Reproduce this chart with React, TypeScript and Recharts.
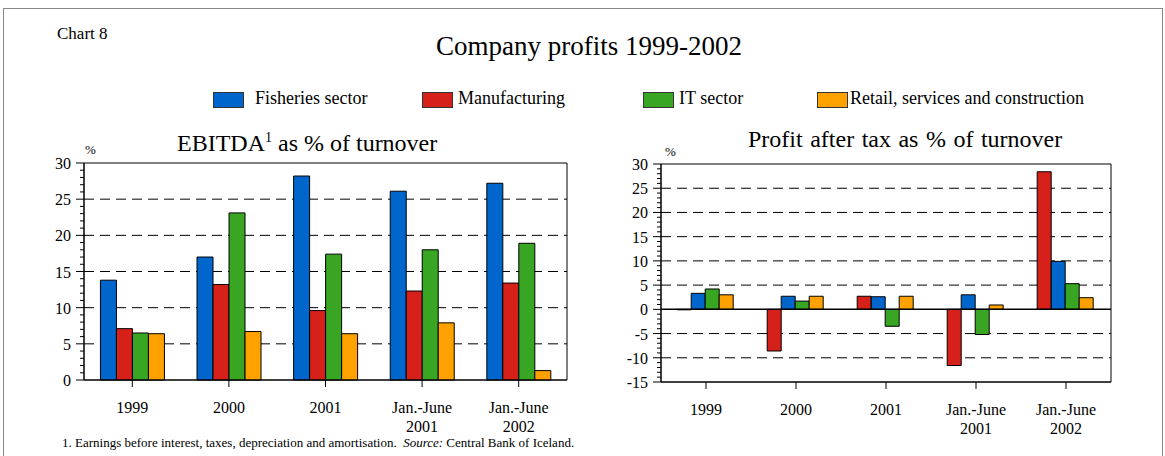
import React from "react";
import {
  BarChart,
  Bar,
  XAxis,
  YAxis,
  CartesianGrid,
  ReferenceLine,
  ReferenceArea,
} from "recharts";

// chart values
const categories = ["1999", "2000", "2001", "Jan.-June\n2001", "Jan.-June\n2002"];

const ebitdaFisheries = [13.8, 17.0, 28.2, 26.1, 27.2];
const ebitdaManufacturing = [7.1, 13.2, 9.6, 12.3, 13.4];
const ebitdaIT = [6.5, 23.1, 17.4, 18.0, 18.9];
const ebitdaRetail = [6.4, 6.7, 6.4, 7.9, 1.3];

const profitManufacturing = [-0.1, -8.6, 2.7, -11.6, 28.4];
const profitFisheries = [3.3, 2.7, 2.6, 3.0, 9.9];
const profitIT = [4.2, 1.7, -3.5, -5.2, 5.3];
const profitRetail = [3.0, 2.7, 2.7, 0.9, 2.4];

const leftGrid = [5, 10, 15, 20, 25];
const rightGrid = [-10, -5, 5, 10, 15, 20, 25];

const BLUE = "#0066cc";
const RED = "#d6201a";
const GREEN = "#38a622";
const ORANGE = "#ffa200";

const FONT = "'Liberation Serif', 'Times New Roman', serif";

const ebitdaData = categories.map((name, i) => ({
  name,
  fisheries: ebitdaFisheries[i],
  manufacturing: ebitdaManufacturing[i],
  it: ebitdaIT[i],
  retail: ebitdaRetail[i],
}));

const profitData = categories.map((name, i) => ({
  name,
  manufacturing: profitManufacturing[i],
  fisheries: profitFisheries[i],
  it: profitIT[i],
  retail: profitRetail[i],
}));

const range = (a: number, b: number) => {
  const out: number[] = [];
  for (let v = a; v <= b; v++) out.push(v);
  return out;
};

// y tick: minor marks every unit, labels every 5
const YTick = (props: any) => {
  const { x, y, payload } = props;
  const v = payload.value;
  const major = v % 5 === 0;
  return (
    <g>
      <line x1={x - (major ? 8 : 4)} x2={x} y1={y} y2={y} stroke="#000" strokeWidth={1} />
      {major && (
        <text x={x - 13} y={y + 6} textAnchor="end" fontSize={16} fontFamily={FONT} fill="#000">
          {v}
        </text>
      )}
    </g>
  );
};

const XTick = (props: any) => {
  const { x, y, payload } = props;
  const lines = String(payload.value).split("\n");
  return (
    <g>
      {lines.map((l, i) => (
        <text key={i} x={x} y={y + 26 + i * 19} textAnchor="middle" fontSize={16} fontFamily={FONT} fill="#000">
          {l}
        </text>
      ))}
    </g>
  );
};

const barStroke = { stroke: "#000", strokeWidth: 1 };

const legendItems = [
  { label: "Fisheries sector", color: BLUE, left: 213, textLeft: 255 },
  { label: "Manufacturing", color: RED, left: 422, textLeft: 458 },
  { label: "IT sector", color: GREEN, left: 643, textLeft: 679 },
  { label: "Retail, services and construction", color: ORANGE, left: 817, textLeft: 850 },
];

export default function App() {
  return (
    <div
      style={{
        position: "absolute",
        left: 0,
        top: 0,
        width: 1165,
        height: 456,
        background: "#fff",
        fontFamily: FONT,
        overflow: "hidden",
      }}
    >
      <div
        style={{
          position: "absolute",
          left: 3,
          top: 8,
          width: 1158,
          height: 460,
          border: "1px solid #888",
        }}
      />
      <div style={{ position: "absolute", left: 57, top: 24, fontSize: 17 }}>Chart 8</div>
      <div style={{ position: "absolute", left: 0, width: 1178, top: 31, textAlign: "center", fontSize: 27 }}>
        Company profits 1999-2002
      </div>

      {legendItems.map((it) => (
        <React.Fragment key={it.label}>
          <div
            style={{
              position: "absolute",
              left: it.left,
              top: 92,
              width: 29,
              height: 14,
              background: it.color,
              border: "1px solid #333",
            }}
          />
          <div style={{ position: "absolute", left: it.textLeft, top: 88, fontSize: 18, whiteSpace: "nowrap" }}>
            {it.label}
          </div>
        </React.Fragment>
      ))}

      <div style={{ position: "absolute", left: 177, top: 130, fontSize: 24, whiteSpace: "nowrap" }}>
        EBITDA<sup style={{ fontSize: 14 }}>1</sup> as % of turnover
      </div>
      <div style={{ position: "absolute", left: 748, top: 126, fontSize: 24, wordSpacing: 1.5, whiteSpace: "nowrap" }}>
        Profit after tax as % of turnover
      </div>
      <div style={{ position: "absolute", left: 85, top: 142, fontSize: 13 }}>%</div>
      <div style={{ position: "absolute", left: 665, top: 144, fontSize: 13 }}>%</div>

      {/* left panel: EBITDA */}
      <div style={{ position: "absolute", left: 0, top: 140 }}>
        <BarChart
          width={600}
          height={300}
          data={ebitdaData}
          margin={{ top: 23, right: 33, left: 44, bottom: 10 }}
          barCategoryGap="17%"
          barGap={0}
        >
          <CartesianGrid vertical={false} horizontalValues={leftGrid} stroke="#000" strokeDasharray="10 6" />
          <XAxis
            dataKey="name"
            tick={<XTick />}
            tickSize={7}
            tickMargin={0}
            interval={0}
            height={50}
            axisLine={{ stroke: "#000" }}
            tickLine={{ stroke: "#000" }}
          />
          <YAxis
            domain={[0, 30]}
            ticks={range(0, 30)}
            interval={0}
            tick={<YTick />}
            tickSize={0}
            tickMargin={0}
            tickLine={false}
            width={40}
            axisLine={{ stroke: "#000" }}
          />
          <ReferenceArea x1={categories[0]} x2={categories[4]} y1={0} y2={30} fill="none" stroke="#000" strokeWidth={1} />
          <Bar dataKey="fisheries" fill={BLUE} {...barStroke} isAnimationActive={false} />
          <Bar dataKey="manufacturing" fill={RED} {...barStroke} isAnimationActive={false} />
          <Bar dataKey="it" fill={GREEN} {...barStroke} isAnimationActive={false} />
          <Bar dataKey="retail" fill={ORANGE} {...barStroke} isAnimationActive={false} />
        </BarChart>
      </div>

      {/* right panel: profit after tax */}
      <div style={{ position: "absolute", left: 600, top: 141 }}>
        <BarChart
          width={565}
          height={300}
          data={profitData}
          margin={{ top: 23, right: 54, left: 21, bottom: 9 }}
          barCategoryGap="18%"
          barGap={0}
        >
          <CartesianGrid vertical={false} horizontalValues={rightGrid} stroke="#000" strokeDasharray="10 6" />
          <XAxis
            dataKey="name"
            tick={<XTick />}
            tickSize={7}
            tickMargin={0}
            interval={0}
            height={50}
            axisLine={{ stroke: "#000" }}
            tickLine={{ stroke: "#000" }}
          />
          <YAxis
            domain={[-15, 30]}
            ticks={range(-15, 30)}
            interval={0}
            tick={<YTick />}
            tickSize={0}
            tickMargin={0}
            tickLine={false}
            width={40}
            axisLine={{ stroke: "#000" }}
          />
          <ReferenceArea x1={categories[0]} x2={categories[4]} y1={-15} y2={30} fill="none" stroke="#000" strokeWidth={1} />
          <ReferenceLine y={0} stroke="#000" strokeWidth={1.5} />
          <Bar dataKey="manufacturing" fill={RED} {...barStroke} isAnimationActive={false} />
          <Bar dataKey="fisheries" fill={BLUE} {...barStroke} isAnimationActive={false} />
          <Bar dataKey="it" fill={GREEN} {...barStroke} isAnimationActive={false} />
          <Bar dataKey="retail" fill={ORANGE} {...barStroke} isAnimationActive={false} />
        </BarChart>
      </div>

      <div style={{ position: "absolute", left: 62, top: 435, fontSize: 13, whiteSpace: "nowrap" }}>
        1. Earnings before interest, taxes, depreciation and amortisation.&nbsp;&nbsp;<i>Source:</i> Central Bank of
        Iceland.
      </div>
    </div>
  );
}
